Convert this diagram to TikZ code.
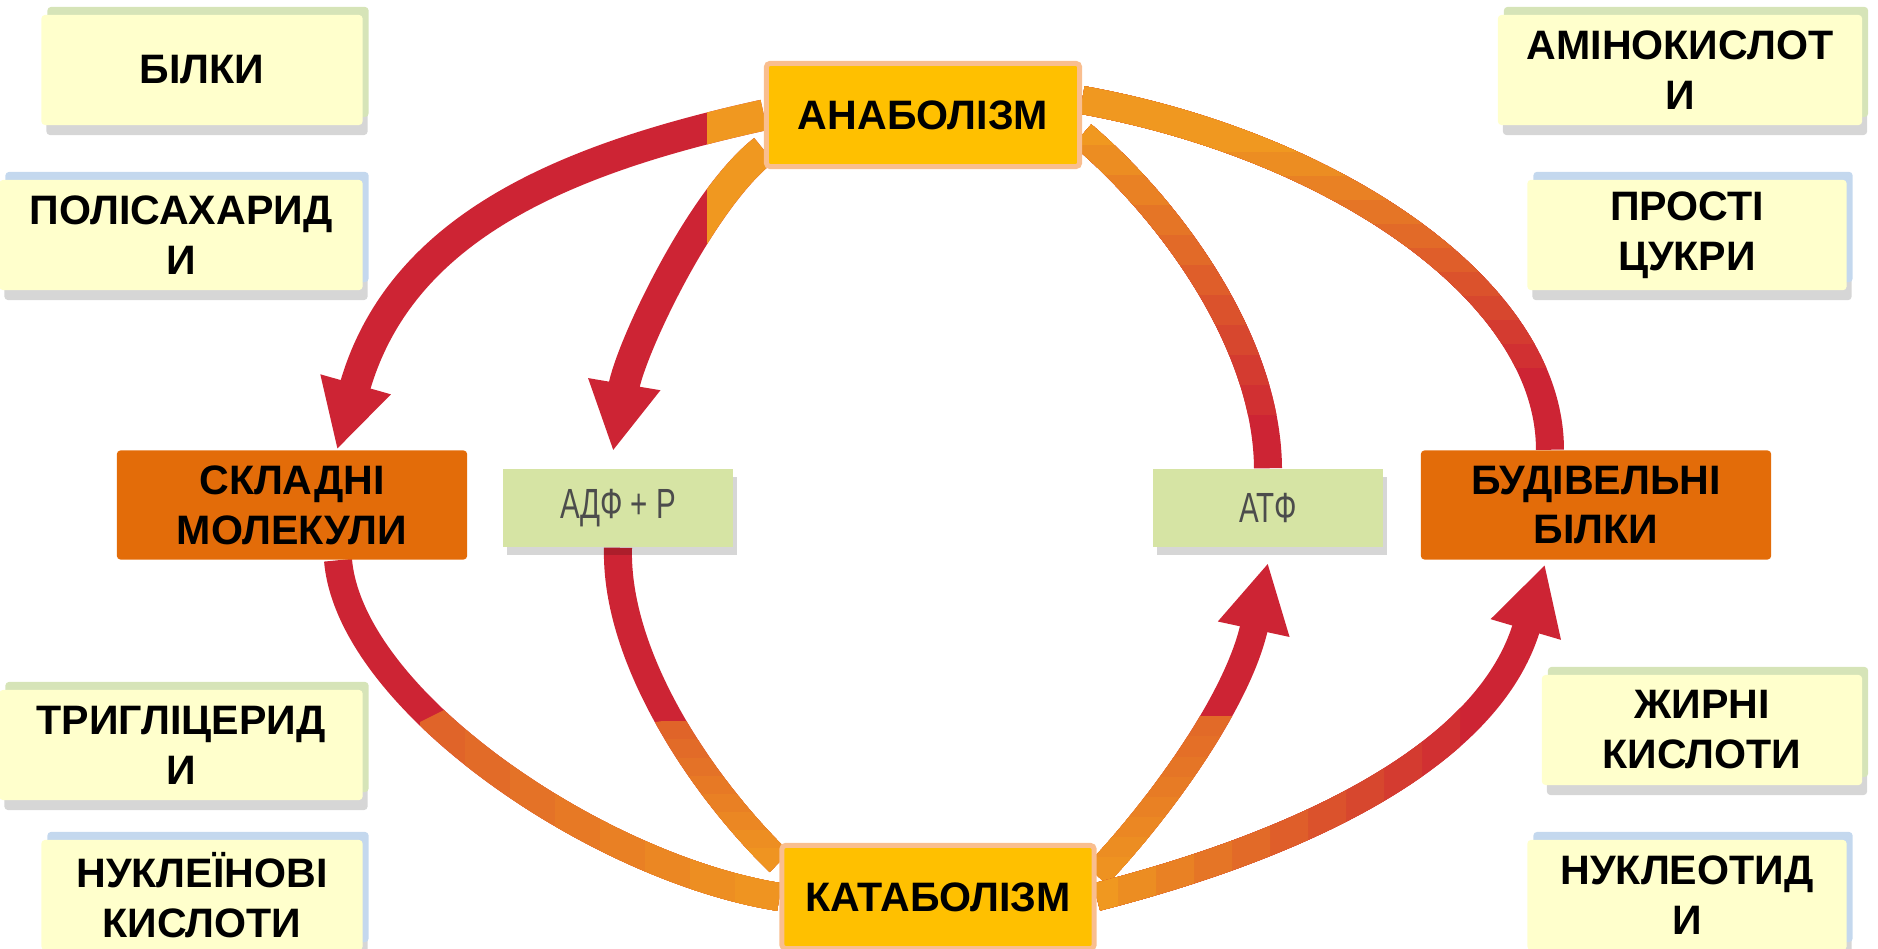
\documentclass[tikz,border=0pt]{standalone}
\usepackage{fontspec}
\setmainfont{Liberation Sans}
\usepackage{xcolor}
\usetikzlibrary{arrows.meta, shadows, backgrounds}

\definecolor{boxyellow}{RGB}{255,255,204}
\definecolor{tintgreen}{RGB}{214,228,184}
\definecolor{tintblue}{RGB}{196,216,238}
\definecolor{coreyellow}{RGB}{255,192,0}
\definecolor{coreedge}{RGB}{249,190,143}
\definecolor{moleorange}{RGB}{227,108,9}
\definecolor{energygreen}{RGB}{214,228,164}
\definecolor{arcred}{RGB}{205,36,52}
\definecolor{arcorange}{RGB}{240,152,32}

\begin{document}
\begin{tikzpicture}[x=0.01cm, y=-0.01cm,
        bold/.style={font=\bfseries\fontsize{11.7}{14.2}\selectfont, align=center},
        sidebox/.style={bold, fill=boxyellow, rounded corners=1pt, minimum height=1.1cm,
            general shadow={fill=black, opacity=0.16, shadow xshift=0.05cm, shadow yshift=-0.1cm}},
        greentop/.style={general shadow={fill=tintgreen, shadow xshift=0.06cm, shadow yshift=0.08cm}},
        bluetop/.style={general shadow={fill=tintblue, shadow xshift=0.06cm, shadow yshift=0.08cm}},
        core/.style={bold, fill=coreyellow, draw=coreedge, line width=0.05cm, rounded corners=1pt,
            minimum width=3.13cm, minimum height=1.03cm},
        molecules/.style={bold, fill=moleorange, rounded corners=1pt, minimum width=3.5cm, minimum height=1.09cm},
        energy/.style={fill=energygreen, text=black!70, font=\fontsize{12}{14}\selectfont,
            minimum width=2.3cm, minimum height=0.78cm,
            general shadow={fill=black, opacity=0.16, shadow xshift=0.04cm, shadow yshift=-0.08cm}},
        band/.style={line width=0.28cm},
        wide band/.style={line width=0.31cm},
        bighead/.style={-{Triangle[length=0.68cm, width=0.68cm]}}]

    \useasboundingbox (0,0) rectangle (1878,949);

    % substances at the edges
    \node[sidebox, greentop, minimum width=3.21cm] (bilky) at (202,70) {БІЛКИ};
    \node[sidebox, bluetop, minimum width=3.63cm] (polisakh) at (181,235) {ПОЛІСАХАРИД\\И};
    \node[sidebox, greentop, minimum width=3.63cm] (tryglits) at (181,745) {ТРИГЛІЦЕРИД\\И};
    \node[sidebox, bluetop, minimum width=3.21cm] (nukleinovi) at (202,895) {НУКЛЕЇНОВІ\\КИСЛОТИ};
    \node[sidebox, greentop, minimum width=3.64cm] (aminokysl) at (1680,70) {АМІНОКИСЛОТ\\И};
    \node[sidebox, bluetop, minimum width=3.19cm] (prosti) at (1687,235) {ПРОСТІ\\ЦУКРИ};
    \node[sidebox, greentop, minimum width=3.20cm] (zhyrni) at (1702,730) {ЖИРНІ\\КИСЛОТИ};
    \node[sidebox, bluetop, minimum width=3.19cm] (nukleotyd) at (1687,895) {НУКЛЕОТИД\\И};

    % the two processes
    \node[core] (anab) at (923,115) {АНАБОЛІЗМ};
    \node[core, minimum width=3.12cm] (katab) at (938,897) {КАТАБОЛІЗМ};

    % molecules and energy
    \node[molecules] (skladni) at (292,505) {СКЛАДНІ\\МОЛЕКУЛИ};
    \node[molecules] (budivelni) at (1596,505) {БУДІВЕЛЬНІ\\БІЛКИ};
    \node[energy] (adf) at (618,508) {\scalebox{0.7}[1]{АДФ + Р}};
    \node[energy] (atf) at (1268,508) {\scalebox{0.7}[1]{АТФ}};

    \begin{scope}[on background layer]
        % anabolism, left
        \draw[wide band, arcred, bighead] (anab.west) .. controls (563,159) and (400,228) .. ([xshift=0.45cm]skladni.north);
        \draw[wide band, arcred, bighead] ([yshift=0.19cm]anab.south west) .. controls (700,200) and (630,350) .. ([xshift=-0.05cm,yshift=0.17cm]adf.north);
        \begin{scope}
            \clip (707,0) rectangle (800,400);
            \draw[wide band, arcorange, bighead] (anab.west) .. controls (563,159) and (400,228) .. ([xshift=0.45cm]skladni.north);
            \draw[wide band, arcorange, bighead] ([yshift=0.19cm]anab.south west) .. controls (700,200) and (630,350) .. ([xshift=-0.05cm,yshift=0.17cm]adf.north);
        \end{scope}

        % anabolism, right
        \draw[band, arcred] ([yshift=-0.2cm]anab.east) .. controls (1166,206) and (1267,339) .. (atf.north);
        \draw[band, arcred] ([yshift=0.15cm]anab.east) .. controls (1332,145) and (1550,290) .. ([xshift=-0.46cm]budivelni.north);
        \foreach \k [evaluate=\k as \p using int(90-10*\k)] in {0,...,9} {
            \begin{scope}
                \clip (1000,0) rectangle (1400,415-30*\k);
                \draw[band, arcred!\p!arcorange] ([yshift=-0.2cm]anab.east) .. controls (1166,206) and (1267,339) .. (atf.north);
            \end{scope}
            \begin{scope}
                \clip (1000,0) rectangle (1700,368-24*\k);
                \draw[band, arcred!\p!arcorange] ([yshift=0.15cm]anab.east) .. controls (1332,145) and (1550,290) .. ([xshift=-0.46cm]budivelni.north);
            \end{scope}
        }

        % catabolism, left
        \draw[band, arcred] ([xshift=0.46cm]skladni.south) .. controls (350,700) and (597,868) .. (katab.west);
        \draw[band, arcred] (adf.south) .. controls (615,660) and (705,790) .. ([yshift=0.35cm]katab.west);
        \begin{scope}
            \clip (370,747) -- (480,692) -- (900,692) -- (900,960) -- (370,960) -- cycle;
            \foreach \k [evaluate=\k as \p using int(45-6*\k)] in {0,...,7} {
                \begin{scope}
                    \clip (420+45*\k,0) rectangle (900,960);
                    \draw[band, arcred!\p!arcorange] ([xshift=0.46cm]skladni.south) .. controls (350,700) and (597,868) .. (katab.west);
                \end{scope}
            }
        \end{scope}
        \begin{scope}
            \clip (560,737) -- (720,712) -- (900,712) -- (900,960) -- (560,960) -- cycle;
            \foreach \k [evaluate=\k as \p using int(45-6*\k)] in {0,...,7} {
                \begin{scope}
                    \clip (0,722+18*\k) rectangle (900,960);
                    \draw[band, arcred!\p!arcorange] (adf.south) .. controls (615,660) and (705,790) .. ([yshift=0.35cm]katab.west);
                \end{scope}
            }
        \end{scope}

        % catabolism, right
        \draw[band, arcred, bighead] ([yshift=0.22cm]katab.east) .. controls (1156,813) and (1238,702) .. ([yshift=-0.15cm]atf.south);
        \draw[band, arcred, bighead] (katab.east) .. controls (1296,846) and (1488,758) .. ([xshift=-0.51cm,yshift=-0.04cm]budivelni.south);
        \foreach \k [evaluate=\k as \p using int(40-5*\k)] in {0,...,7} {
            \begin{scope}
                \clip (1000,717+20*\k) rectangle (1400,960);
                \draw[band, arcred!\p!arcorange, bighead] ([yshift=0.22cm]katab.east) .. controls (1156,813) and (1238,702) .. ([yshift=-0.15cm]atf.south);
            \end{scope}
        }
        \foreach \k [evaluate=\k as \p using int(90-10*\k)] in {0,...,9} {
            \begin{scope}
                \clip (1000,560) rectangle (1460-38*\k,960);
                \draw[band, arcred!\p!arcorange, bighead] (katab.east) .. controls (1296,846) and (1488,758) .. ([xshift=-0.51cm,yshift=-0.04cm]budivelni.south);
            \end{scope}
        }
    \end{scope}
\end{tikzpicture}
\end{document}
